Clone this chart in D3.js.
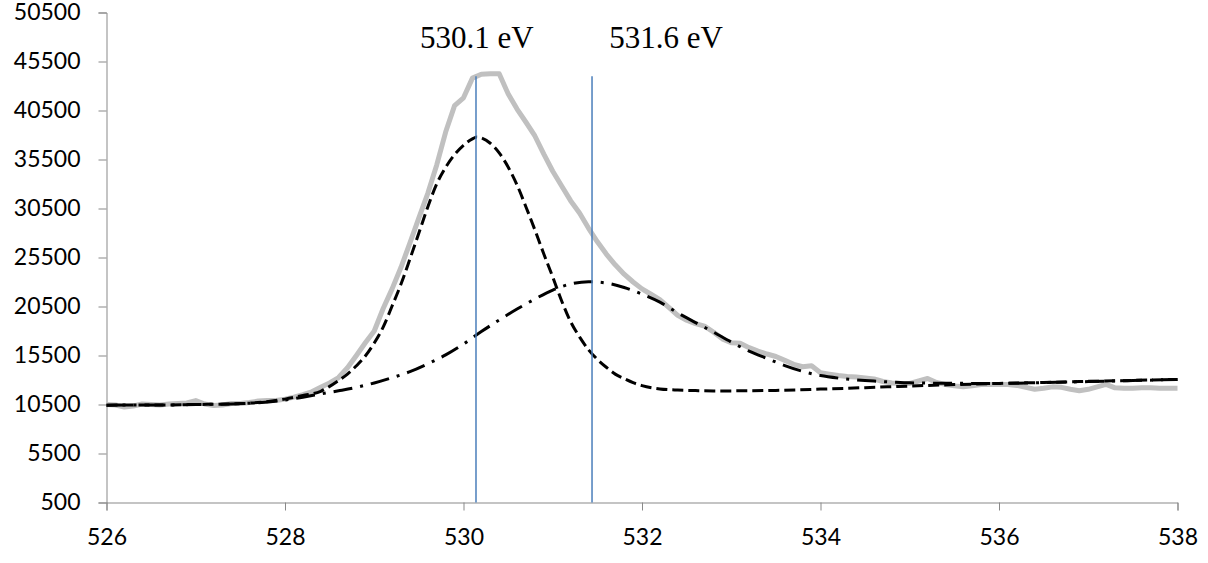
<!DOCTYPE html>
<html>
<head>
<meta charset="utf-8">
<script src="https://cdn.jsdelivr.net/npm/d3@7"></script>
<style>
  body { margin: 0; background: #fff; }
  .axis path, .axis line { stroke: #898989; }
  .axis text { font-family: Lato, "Open Sans", sans-serif; font-size: 23px; fill: #000; }
</style>
</head>
<body>
<div id="chart"></div>
<script>
// tick labels
const xTicks = [526, 528, 530, 532, 534, 536, 538]
const yTicks = [500, 5500, 10500, 15500, 20500, 25500, 30500, 35500, 40500, 45500, 50500]

// measured O 1s spectrum [binding energy, counts]
const measured = [
  [526.0,10500],[526.1,10450],[526.2,10250],[526.3,10350],[526.4,10550],[526.5,10500],
  [526.6,10450],[526.7,10550],[526.8,10600],[526.9,10650],[527.0,10900],[527.1,10550],
  [527.2,10400],[527.3,10450],[527.4,10600],[527.5,10600],[527.6,10700],[527.7,10850],
  [527.8,10900],[527.9,10900],[528.0,11050],[528.1,11250],[528.2,11500],[528.3,11800],
  [528.4,12250],[528.5,12700],[528.6,13250],[528.7,14250],[528.8,15500],[528.9,16800],
  [529.0,18000],[529.1,20300],[529.2,22300],[529.3,24500],[529.4,27000],[529.5,29550],
  [529.6,32050],[529.7,34950],[529.8,38300],[529.9,41000],[530.0,41800],[530.1,43800],
  [530.2,44200],[530.3,44250],[530.4,44250],[530.5,42200],[530.6,40650],[530.7,39300],
  [530.8,37900],[530.9,36050],[531.0,34300],[531.1,32800],[531.2,31300],[531.3,30050],
  [531.4,28500],[531.5,27100],[531.6,25850],[531.7,24750],[531.8,23800],[531.9,23000],
  [532.0,22300],[532.1,21750],[532.2,21200],[532.3,20400],[532.4,19600],[532.5,19100],
  [532.6,18750],[532.7,18500],[532.8,17900],[532.9,17200],[533.0,16800],[533.1,16750],
  [533.2,16300],[533.3,15950],[533.4,15650],[533.5,15400],[533.6,15000],[533.7,14600],
  [533.8,14350],[533.9,14450],[534.0,13750],[534.1,13600],[534.2,13450],[534.3,13350],
  [534.4,13300],[534.5,13200],[534.6,13100],[534.7,12850],[534.8,12700],[534.9,12650],
  [535.0,12650],[535.1,12900],[535.2,13150],[535.3,12750],[535.4,12550],[535.5,12400],
  [535.6,12300],[535.7,12400],[535.8,12550],[535.9,12550],[536.0,12550],[536.1,12550],
  [536.2,12450],[536.3,12250],[536.4,12050],[536.5,12150],[536.6,12300],[536.7,12250],
  [536.8,12050],[536.9,11900],[537.0,12050],[537.1,12300],[537.2,12550],[537.3,12200],
  [537.4,12150],[537.5,12150],[537.6,12200],[537.7,12200],[537.8,12150],[537.9,12150],
  [538.0,12150]
]

// fitted component at 530.1 eV (with background)
const peak1 = [
  [526.0,10436],[526.5,10440],[527.0,10500],[527.5,10590],[528.0,11050],[528.2,11420],
  [528.4,11850],[528.5,12350],[528.6,12950],[528.7,13600],[528.8,14450],[528.9,15450],
  [529.0,16770],[529.1,18400],[529.2,20550],[529.3,22790],[529.4,25350],[529.5,28000],
  [529.6,30660],[529.7,33010],[529.8,34700],[529.9,36000],[530.0,36950],[530.1,37600],
  [530.15,37800],[530.2,37700],[530.3,37160],[530.4,36170],[530.5,34740],[530.6,32900],
  [530.7,30660],[530.8,28310],[530.9,25860],[531.0,23510],[531.1,21060],[531.2,18950],
  [531.3,17400],[531.4,16100],[531.5,15100],[531.6,14300],[531.7,13600],[531.8,13140],
  [531.9,12730],[532.0,12430],[532.2,12090],[532.4,11970],[532.6,11920],[532.8,11890],
  [533.0,11890],[533.5,11940],[534.0,12070],[534.5,12220],[535.0,12380],[535.5,12530],
  [536.0,12650],[536.5,12750],[537.0,12860],[537.5,12960],[538.0,13060]
]

// fitted component at 531.6 eV (with background)
const peak2 = [
  [526.0,10436],[526.5,10440],[527.0,10500],[527.5,10590],[528.0,10950],[528.2,11250],
  [528.4,11580],[528.6,11900],[528.8,12250],[529.0,12700],[529.2,13240],[529.4,13850],
  [529.6,14650],[529.8,15560],[530.0,16670],[530.2,17940],[530.4,19120],[530.6,20240],
  [530.8,21260],[531.0,22180],[531.2,22800],[531.4,23030],[531.6,22890],[531.8,22440],
  [532.0,21770],[532.2,20950],[532.4,19850],[532.6,18860],[532.8,17890],[533.0,16870],
  [533.2,15950],[533.4,15200],[533.6,14470],[533.8,13880],[534.0,13450],[534.2,13190],
  [534.4,13020],[534.6,12890],[534.8,12790],[535.0,12710],[535.5,12660],[536.0,12650],
  [536.5,12730],[537.0,12840],[537.5,12940],[538.0,13060]
]

// peak position markers and their labels
const markerEnergies = [530.14, 531.44]
const markerTop = 44000
const labelTexts = ['530.1 eV', '531.6 eV']
const labelEnergies = [530.15, 532.27]
const labelValue = 46900

const width = 1208
const height = 563
const margin = { top: 12.5, right: 30.5, bottom: 60.5, left: 106.5 }

const svg = d3.select('#chart').append('svg').attr('width', width).attr('height', height)

const x = d3.scaleLinear().domain([526, 538]).range([margin.left, width - margin.right])
const y = d3.scaleLinear().domain([500, 50500]).range([height - margin.bottom, margin.top])

const xAxis = d3.axisBottom(x).tickValues(xTicks).tickSize(8).tickPadding(18).tickFormat(d3.format('d'))
const yAxis = d3.axisLeft(y).tickValues(yTicks).tickSize(8).tickPadding(18).tickFormat(d3.format('d'))

svg.append('g').attr('class', 'axis').attr('transform', `translate(0, ${height - margin.bottom})`).call(xAxis)
svg.append('g').attr('class', 'axis').attr('transform', `translate(${margin.left}, 0)`).call(yAxis)

const smooth = d3.line().x(d => x(d[0])).y(d => y(d[1])).curve(d3.curveMonotoneX)
const raw = d3.line().x(d => x(d[0])).y(d => y(d[1]))

const plot = svg.append('g').attr('class', 'plot')

plot.append('path').datum(measured)
  .attr('d', raw)
  .attr('fill', 'none')
  .attr('stroke', '#c0c0c0')
  .attr('stroke-width', 5)
  .attr('stroke-linejoin', 'round')

plot.append('path').datum(peak1)
  .attr('d', smooth)
  .attr('fill', 'none')
  .attr('stroke', '#000')
  .attr('stroke-width', 3)
  .attr('stroke-dasharray', '11,5')

plot.append('path').datum(peak2)
  .attr('d', smooth)
  .attr('fill', 'none')
  .attr('stroke', '#000')
  .attr('stroke-width', 3)
  .attr('stroke-dasharray', '19,8,3,8')

plot.selectAll('line.marker').data(markerEnergies).enter()
  .append('line')
  .attr('class', 'marker')
  .attr('x1', d => x(d)).attr('x2', d => x(d))
  .attr('y1', y(markerTop)).attr('y2', y(500))
  .attr('stroke', '#4a7ebb')
  .attr('stroke-width', 1.5)

svg.selectAll('text.label').data(labelTexts).enter()
  .append('text')
  .attr('class', 'label')
  .attr('x', (d, i) => x(labelEnergies[i]))
  .attr('y', y(labelValue))
  .attr('text-anchor', 'middle')
  .style('font-family', '"Liberation Serif", "Times New Roman", serif')
  .style('font-size', '31px')
  .text(d => d)
</script>
</body>
</html>
